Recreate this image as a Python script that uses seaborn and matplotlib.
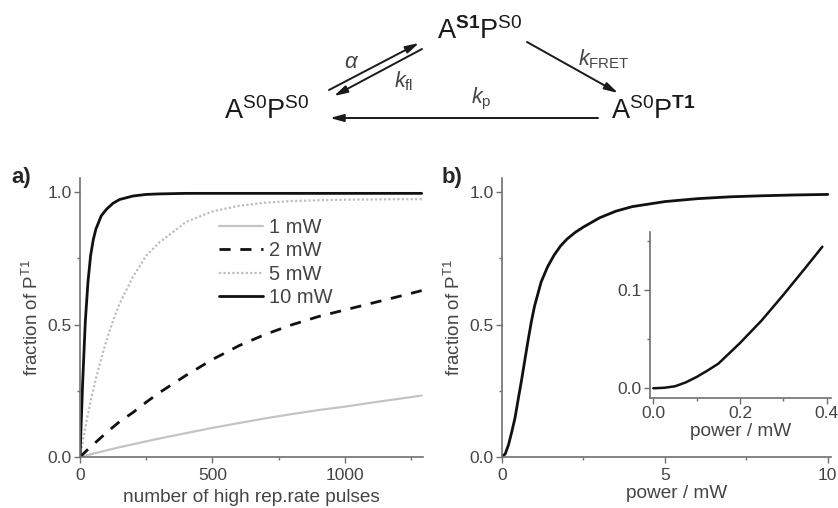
import pandas as pd
import seaborn as sns
import matplotlib
matplotlib.use("Agg")
import matplotlib.pyplot as plt

# values
pulses = [0, 10, 20, 30, 40, 50, 60, 80, 100, 125, 150, 200, 250, 300,
          400, 500, 600, 700, 800, 900, 1000, 1100, 1200, 1290]
frac_1mW = [0, 0.0026, 0.005, 0.0077, 0.01, 0.013, 0.015, 0.02, 0.025, 0.031, 0.037, 0.048,
            0.059, 0.07, 0.09, 0.11, 0.128, 0.146, 0.162, 0.177, 0.19, 0.205, 0.219, 0.232]
frac_2mW = [0, 0.01, 0.019, 0.029, 0.038, 0.047, 0.056, 0.074, 0.092, 0.113, 0.134, 0.168,
            0.207, 0.243, 0.308, 0.368, 0.42, 0.463, 0.499, 0.53, 0.555, 0.58, 0.605, 0.628]
frac_5mW = [0, 0.057, 0.111, 0.161, 0.209, 0.253, 0.295, 0.371, 0.44, 0.515, 0.58, 0.68,
            0.76, 0.81, 0.887, 0.927, 0.948, 0.96, 0.966, 0.969, 0.971, 0.972, 0.973, 0.973]
frac_10mW = [0, 0.28, 0.51, 0.66, 0.76, 0.82, 0.86, 0.91, 0.935, 0.958, 0.972, 0.985,
             0.991, 0.993, 0.995, 0.995, 0.995, 0.995, 0.995, 0.995, 0.995, 0.995, 0.995, 0.995]
series_labels = ["1 mW", "2 mW", "5 mW", "10 mW"]

power = [0, 0.1, 0.2, 0.3, 0.4, 0.5, 0.6, 0.7, 0.8, 0.9, 1.0, 1.2, 1.4, 1.6, 1.8, 2.0,
         2.25, 2.5, 3.0, 3.5, 4.0, 5.0, 6.0, 7.0, 8.0, 9.0, 10.0]
frac_power = [0, 0.012, 0.046, 0.095, 0.148, 0.22, 0.29, 0.365, 0.44, 0.51, 0.57, 0.66,
              0.718, 0.762, 0.797, 0.823, 0.848, 0.868, 0.903, 0.928, 0.945, 0.964, 0.975,
              0.982, 0.986, 0.989, 0.991]

power_low = [0, 0.025, 0.05, 0.075, 0.1, 0.125, 0.15, 0.2, 0.25, 0.3, 0.35, 0.39]
frac_low = [0, 0.0005, 0.002, 0.006, 0.0115, 0.018, 0.025, 0.046, 0.069, 0.095, 0.122, 0.144]

sns.set_style("ticks")
plt.rcParams['font.family'] = ['Liberation Sans', 'DejaVu Sans']
plt.rcParams['mathtext.fontset'] = 'custom'
plt.rcParams['mathtext.rm'] = 'Liberation Sans'
plt.rcParams['mathtext.it'] = 'Liberation Sans:italic'
plt.rcParams['mathtext.bf'] = 'Liberation Sans:bold'

axis_col = "#707070"
text_col = "#444444"

fig = plt.figure(figsize=(8.38, 5.08), dpi=100)
W, H = 838, 508

def px_axes(x0, y0, x1, y1):
    return fig.add_axes([x0 / W, 1 - y1 / H, (x1 - x0) / W, (y1 - y0) / H])

def style_axes(ax, fs=12.5):
    sns.despine(ax=ax)
    for s in ["left", "bottom"]:
        ax.spines[s].set_color(axis_col)
        ax.spines[s].set_linewidth(1.2)
    ax.tick_params(which="both", direction="out", colors=axis_col, labelcolor=text_col,
                   labelsize=fs, width=1.0)
    ax.tick_params(which="major", length=4, pad=2)
    ax.tick_params(which="minor", length=2.5)

# ---- panel a
ax_a = px_axes(80, 178, 423, 457)
df_a = pd.DataFrame({"pulses": pulses * 4,
                     "frac": frac_1mW + frac_2mW + frac_5mW + frac_10mW,
                     "power": sum([[lab] * len(pulses) for lab in series_labels], [])})
styles = {"1 mW": dict(color="#c4c4c4", ls="-", lw=1.6),
          "2 mW": dict(color="#111111", ls=(0, (4, 3.5)), lw=2.0),
          "5 mW": dict(color="#bdbdbd", ls=(0, (1, 1)), lw=1.6),
          "10 mW": dict(color="#111111", ls="-", lw=2.0)}
handles = []
for lab in series_labels:
    sub = df_a[df_a["power"] == lab]
    sns.lineplot(data=sub, x="pulses", y="frac", ax=ax_a, color=styles[lab]["color"],
                 linewidth=styles[lab]["lw"], linestyle=styles[lab]["ls"], label=lab,
                 legend=False)
    handles.append(ax_a.lines[-1])
ax_a.set_xlim(0, 1295)
ax_a.set_ylim(0, 1.053)
ax_a.set_xticks([0, 500, 1000])
ax_a.set_xticks([250, 750, 1250], minor=True)
ax_a.set_yticks([0, 0.5, 1.0])
ax_a.set_yticks([0.25, 0.75], minor=True)
ax_a.set_yticklabels(["0.0", "0.5", "1.0"])
style_axes(ax_a)
ax_a.tick_params(axis="x", which="major", pad=4)
ax_a.set_xlabel("number of high rep.rate pulses", fontsize=13.7, color=text_col, labelpad=4)
ax_a.set_ylabel(r"fraction of P$^{\mathrm{T1}}$", fontsize=13.5, color=text_col, labelpad=4)
fig.legend(handles=handles, labels=series_labels, loc="upper left",
           bbox_to_anchor=(219 / W, 1 - 218 / H), frameon=False, fontsize=14.5,
           handlelength=2.2, handletextpad=0.3, labelspacing=0.22, borderpad=0,
           borderaxespad=0, labelcolor=text_col)

# ---- panel b
ax_b = px_axes(502, 178, 831, 457)
df_b = pd.DataFrame({"power": power, "frac": frac_power})
sns.lineplot(data=df_b, x="power", y="frac", ax=ax_b, color="#111111", linewidth=2.0)
ax_b.set_xlim(0, 10.1)
ax_b.set_ylim(0, 1.053)
ax_b.set_xticks([0, 5, 10])
ax_b.set_xticks([2.5, 7.5], minor=True)
ax_b.set_yticks([0, 0.5, 1.0])
ax_b.set_yticks([0.25, 0.75], minor=True)
ax_b.set_yticklabels(["0.0", "0.5", "1.0"])
style_axes(ax_b)
ax_b.tick_params(axis="x", which="major", pad=4)
ax_b.set_xlabel("power / mW", fontsize=13.7, color=text_col, labelpad=4)
ax_b.xaxis.set_label_coords(0.53, -0.1)
ax_b.xaxis.label.set_va("top")
ax_b.set_ylabel(r"fraction of P$^{\mathrm{T1}}$", fontsize=13.5, color=text_col, labelpad=4)

# ---- inset
ax_in = px_axes(650, 232, 831, 398)
df_in = pd.DataFrame({"power": power_low, "frac": frac_low})
sns.lineplot(data=df_in, x="power", y="frac", ax=ax_in, color="#111111", linewidth=1.8)
ax_in.set_xlim(-0.0076, 0.41)
ax_in.set_ylim(-0.0099, 0.159)
ax_in.set_xticks([0, 0.2, 0.4])
ax_in.set_xticks([0.1, 0.3], minor=True)
ax_in.set_xticklabels(["0.0", "0.2", "0.4"])
ax_in.set_yticks([0, 0.1])
ax_in.set_yticks([0.05, 0.15], minor=True)
ax_in.set_yticklabels(["0.0", "0.1"])
style_axes(ax_in)
ax_in.set_xlabel("power / mW", fontsize=13.7, color=text_col, labelpad=1)
ax_in.set_ylabel("")

# panel letters
fig.text(11 / W, 1 - 178 / H, "a)", fontsize=16, fontweight="bold", va="center", ha="left")
fig.text(442 / W, 1 - 178 / H, "b)", fontsize=16, fontweight="bold", va="center", ha="left")

# ---- reaction scheme (pixel coordinates overlay)
ax_s = fig.add_axes([0, 0, 1, 1], zorder=-1)
ax_s.set_xlim(0, W)
ax_s.set_ylim(H, 0)
ax_s.axis("off")
sc = "#1a1a1a"
ax_s.text(480, 31, r"A$^{\mathbf{S1}}$P$^{\mathrm{S0}}$", fontsize=19.5, ha="center", va="center", color=sc)
ax_s.text(267, 111, r"A$^{\mathrm{S0}}$P$^{\mathrm{S0}}$", fontsize=19.5, ha="center", va="center", color=sc)
ax_s.text(653, 111, r"A$^{\mathrm{S0}}$P$^{\mathbf{T1}}$", fontsize=19.5, ha="center", va="center", color=sc)

arr = dict(arrowstyle="-|>,head_length=0.8,head_width=0.22", color=sc, lw=1.4,
           shrinkA=0, shrinkB=0)
ax_s.annotate("", xy=(419, 43), xytext=(329, 90), arrowprops=arr)
ax_s.annotate("", xy=(334, 96), xytext=(422, 49), arrowprops=arr)
ax_s.annotate("", xy=(618, 93), xytext=(527, 42), arrowprops=arr)
ax_s.annotate("", xy=(330, 118), xytext=(598, 118), arrowprops=arr)
ax_s.text(352, 62, r"$\alpha$", fontsize=16, ha="center", va="center", color=text_col)
ax_s.text(404, 81, r"$k_{\mathrm{fl}}$", fontsize=15.5, ha="center", va="center", color=text_col)
ax_s.text(604, 59, r"$k_{\mathrm{FRET}}$", fontsize=15.5, ha="center", va="center", color=text_col)
ax_s.text(481, 99, r"$k_{\mathrm{p}}$", fontsize=15.5, ha="center", va="center", color=text_col)

fig.savefig("out.png", dpi=100)
